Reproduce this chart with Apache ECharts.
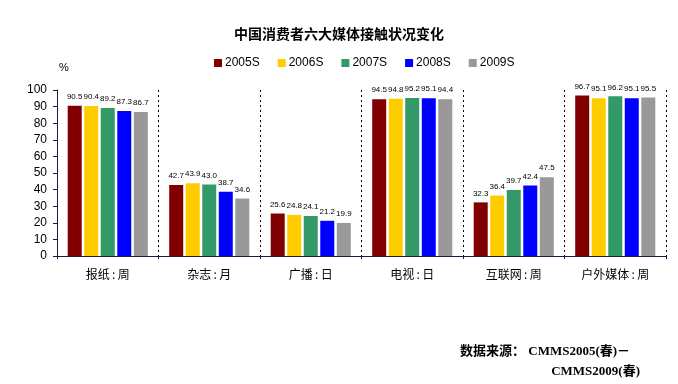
<!DOCTYPE html>
<html><head><meta charset="utf-8">
<script src="https://cdn.jsdelivr.net/npm/echarts@6/dist/echarts.min.js"></script>
<style>html,body{margin:0;padding:0;background:#fff}#c{width:678px;height:384px}</style>
</head><body><div id="c"></div>
<script>
const categories = ['报纸:周', '杂志:月', '广播:日', '电视:日', '互联网:周', '户外媒体:周'];
const seriesNames = ['2005S', '2006S', '2007S', '2008S', '2009S'];
const v2005 = [90.5, 42.7, 25.6, 94.5, 32.3, 96.7];
const v2006 = [90.4, 43.9, 24.8, 94.8, 36.4, 95.1];
const v2007 = [89.2, 43.0, 24.1, 95.2, 39.7, 96.2];
const v2008 = [87.3, 38.7, 21.2, 95.1, 42.4, 95.1];
const v2009 = [86.7, 34.6, 19.9, 94.4, 47.5, 95.5];
const yTicks = [0, 10, 20, 30, 40, 50, 60, 70, 80, 90, 100];
const colors = ['#800000', '#FFCC00', '#339966', '#0000FF', '#999999'];
const allValues = [v2005, v2006, v2007, v2008, v2009];

const chart = echarts.init(document.getElementById('c'));
const font = 'Arial, "Liberation Sans", "Noto Sans CJK SC", sans-serif';
chart.setOption({
  animation: false,
  color: colors,
  title: {
    text: '中国消费者六大媒体接触状况变化',
    left: 'center', top: 22,
    textStyle: { fontSize: 14, fontWeight: 'bold', color: '#000', fontFamily: '"Noto Sans CJK SC", sans-serif' }
  },
  legend: {
    data: seriesNames,
    top: 52, left: 209,
    itemWidth: 8, itemHeight: 8, itemGap: 18,
    icon: 'rect',
    textStyle: { fontSize: 12, color: '#000', fontFamily: font, padding: [0, 0, 0, -2] }
  },
  grid: { left: 57, right: 12, top: 90, bottom: 128 },
  xAxis: {
    type: 'category',
    data: categories,
    axisLine: { lineStyle: { color: '#1a1a3a', width: 1 } },
    axisTick: { show: true, length: 3, lineStyle: { color: '#1a1a3a' } },
    axisLabel: { fontSize: 12, color: '#000', margin: 12, fontFamily: '"Noto Sans CJK SC", sans-serif',
      formatter: s => s.replace(':', '\u2009:\u2009') },
    splitLine: { show: true, interval: 0, lineStyle: { color: '#000', type: [2, 3], width: 1 } }
  },
  yAxis: {
    type: 'value', min: 0, max: 100, interval: 10,
    name: '%', nameLocation: 'end', nameGap: 17,
    nameTextStyle: { fontSize: 11, color: '#000', align: 'left', padding: [0, 0, 0, 2] },
    axisLine: { show: true, lineStyle: { color: '#1a1a3a', width: 1 } },
    axisTick: { show: true, length: 4, lineStyle: { color: '#1a1a3a' } },
    axisLabel: { fontSize: 12, color: '#000', margin: 10, fontFamily: font,
      formatter: v => yTicks.includes(v) ? String(v) : '' },
    splitLine: { show: false }
  },
  series: seriesNames.map((n, i) => ({
    name: n, type: 'bar',
    data: allValues[i],
    barWidth: 14, barGap: '18%', barCategoryGap: '21%',
    itemStyle: { color: colors[i] },
    label: { show: true, position: 'top', distance: 5, fontSize: 8, color: '#000', fontFamily: font,
      formatter: p => p.value.toFixed(1) }
  })),
  graphic: [
    { type: 'text', left: 460, top: 345,
      style: { text: '数据来源： CMMS2005(春)－', fill: '#000',
        font: 'bold 13px "Liberation Serif", "Noto Sans CJK SC", serif' } },
    { type: 'text', right: 38, top: 365,
      style: { text: 'CMMS2009(春)', fill: '#000',
        font: 'bold 13px "Liberation Serif", "Noto Sans CJK SC", serif' } }
  ]
});
</script></body></html>
